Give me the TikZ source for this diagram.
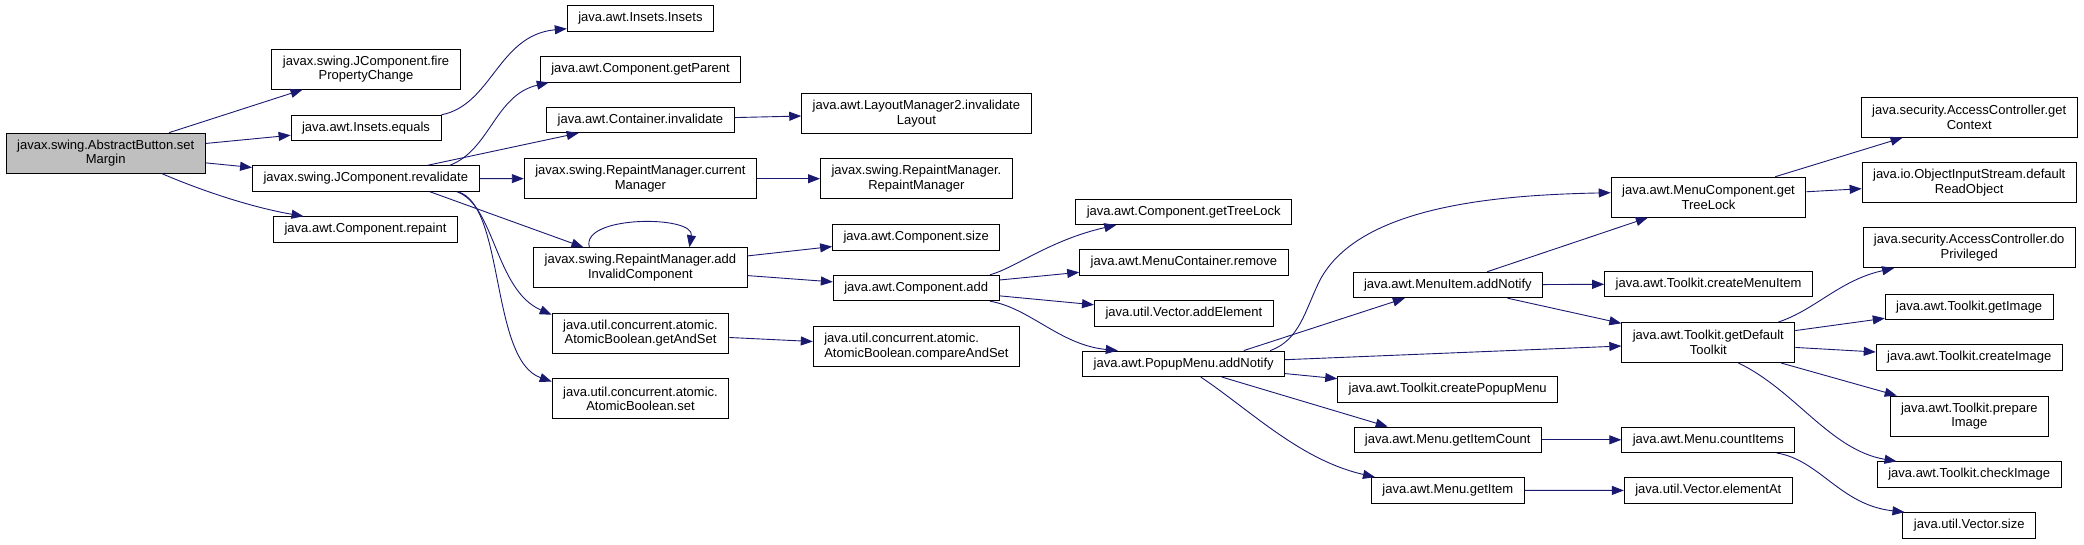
\documentclass[tikz,border=0pt]{standalone}
\usepackage{fontspec}
\setmainfont{Liberation Sans}
\usetikzlibrary{arrows.meta}
\definecolor{callblue}{HTML}{191970}
\definecolor{rootgray}{HTML}{BFBFBF}

\begin{document}
\begin{tikzpicture}[x=1pt, y=-1pt,
    fn/.style={rectangle, draw=black, line width=0.9pt, fill=white,
      inner xsep=11pt, inner ysep=1pt, minimum height=25.5pt,
      align=center, font=\fontsize{13}{14.7}\selectfont},
    fnw/.style={fn, minimum height=40pt},
    call/.style={draw=callblue, line width=0.9pt,
      -{Triangle[length=12pt,width=9pt]}}]
  \useasboundingbox (0,0) rectangle (2084,544);

  % column 1 and 2
  \node[fnw, fill=rootgray] (setmargin) at (105.7,153.1) {javax.swing.AbstractButton.set\\Margin};
  \node[fnw] (fireprop) at (366,69.2) {javax.swing.JComponent.fire\\PropertyChange};
  \node[fn] (insetsequals) at (366,128) {java.awt.Insets.equals};
  \node[fn] (revalidate) at (365.8,178.5) {javax.swing.JComponent.revalidate};
  \node[fn] (repaint) at (365.5,229.5) {java.awt.Component.repaint};

  % column 3
  \node[fn] (insets) at (640.4,18.5) {java.awt.Insets.Insets};
  \node[fn] (getparent) at (640.5,69.3) {java.awt.Component.getParent};
  \node[fn] (invalidate) at (640.4,119.8) {java.awt.Container.invalidate};
  \node[fnw] (currentmgr) at (640.4,178.7) {javax.swing.RepaintManager.current\\Manager};
  \node[fnw] (addinvalid) at (640.4,267.7) {javax.swing.RepaintManager.add\\InvalidComponent};
  \node[fnw] (getandset) at (640.5,333.2) {java.util.concurrent.atomic.\\AtomicBoolean.getAndSet};
  \node[fnw] (abset) at (640.5,398.7) {java.util.concurrent.atomic.\\AtomicBoolean.set};

  % column 4
  \node[fnw] (layoutmgr) at (916.4,113.3) {java.awt.LayoutManager2.invalidate\\Layout};
  \node[fnw] (repaintmgr) at (916.4,178.7) {javax.swing.RepaintManager.\\RepaintManager};
  \node[fn] (compsize) at (916.2,237.3) {java.awt.Component.size};
  \node[fn] (compadd) at (916.2,288) {java.awt.Component.add};
  \node[fnw, align=left] (compareandset) at (916.4,346.5) {java.util.concurrent.atomic.\\AtomicBoolean.compareAndSet};

  % column 5 and 6
  \node[fn] (gettreelock) at (1183.7,211.8) {java.awt.Component.getTreeLock};
  \node[fn] (mcremove) at (1183.9,262.3) {java.awt.MenuContainer.remove};
  \node[fn] (addelement) at (1183.9,313.2) {java.util.Vector.addElement};
  \node[fn] (popupnotify) at (1183.7,363.8) {java.awt.PopupMenu.addNotify};
  \node[fn] (itemnotify) at (1447.8,285) {java.awt.MenuItem.addNotify};
  \node[fn] (createpopup) at (1447.7,389.3) {java.awt.Toolkit.createPopupMenu};
  \node[fn] (getitemcount) at (1447.7,439.8) {java.awt.Menu.getItemCount};
  \node[fn] (getitem) at (1447.8,490.3) {java.awt.Menu.getItem};

  % column 7
  \node[fnw] (mctreelock) at (1708.5,197.2) {java.awt.MenuComponent.get\\TreeLock};
  \node[fn] (createmenuitem) at (1708.5,283.8) {java.awt.Toolkit.createMenuItem};
  \node[fnw] (defaulttk) at (1708.3,342.5) {java.awt.Toolkit.getDefault\\Toolkit};
  \node[fn] (countitems) at (1708.3,439.8) {java.awt.Menu.countItems};
  \node[fn] (elementat) at (1708.3,490.5) {java.util.Vector.elementAt};

  % column 8
  \node[fnw] (getcontext) at (1969.2,117.2) {java.security.AccessController.get\\Context};
  \node[fnw] (readobject) at (1969.2,182.7) {java.io.ObjectInputStream.default\\ReadObject};
  \node[fnw] (doprivileged) at (1969.2,247.7) {java.security.AccessController.do\\Privileged};
  \node[fn] (getimage) at (1969.2,306.7) {java.awt.Toolkit.getImage};
  \node[fn] (createimage) at (1969.2,357.3) {java.awt.Toolkit.createImage};
  \node[fnw] (prepareimage) at (1969.3,416) {java.awt.Toolkit.prepare\\Image};
  \node[fn] (checkimage) at (1969.2,474.5) {java.awt.Toolkit.checkImage};
  \node[fn] (vectorsize) at (1969.2,525.3) {java.util.Vector.size};

  % calls
  \draw[call] (setmargin) -- (fireprop);
  \draw[call] (setmargin) -- (insetsequals);
  \draw[call] (setmargin) -- (revalidate);
  \draw[call] ([xshift=56pt]setmargin.south) .. controls (200,190) and (250,207) .. ([xshift=-62pt]repaint.north);
  \draw[call] (insetsequals.north east) .. controls (492,105) and (498,35) .. ([yshift=3pt]insets.south west);
  \draw[call] ([xshift=84pt]revalidate.north) .. controls (490,150) and (495,95) .. ([xshift=9pt]getparent.south west);
  \draw[call] (revalidate) -- (invalidate);
  \draw[call] (revalidate) -- (currentmgr);
  \draw[call] ([xshift=64pt]revalidate.south) -- ([xshift=-57pt]addinvalid.north);
  \draw[call] ([xshift=91pt]revalidate.south) .. controls (495,205) and (495,290) .. ([yshift=-2pt]getandset.north west);
  \draw[call] ([xshift=92pt]revalidate.south) .. controls (505,205) and (490,360) .. ([yshift=-3.3pt]abset.north west);
  \draw[call] (invalidate) -- (layoutmgr);
  \draw[call] (currentmgr) -- (repaintmgr);
  \draw[call] ([xshift=-51pt]addinvalid.north) .. controls (580,215) and (695,215) .. ([xshift=49pt]addinvalid.north);
  \draw[call] (addinvalid) -- (compsize);
  \draw[call] (addinvalid) -- (compadd);
  \draw[call] (getandset) -- (compareandset);
  \draw[call] ([xshift=-9.6pt]compadd.north east) .. controls (1015,268) and (1050,240) .. ([xshift=41pt]gettreelock.south west);
  \draw[call] (compadd) -- (mcremove);
  \draw[call] (compadd) -- (addelement);
  \draw[call] ([xshift=-9.6pt]compadd.south east) .. controls (1030,308) and (1060,345) .. ([xshift=35.5pt]popupnotify.north west);
  \draw[call] ([xshift=-15pt]popupnotify.north east) .. controls (1300,340) and (1305,310) .. (1320,280)
    .. controls (1360,205) and (1500,195) .. ([yshift=4.5pt]mctreelock.west);
  \draw[call] ([xshift=60pt]popupnotify.north) -- ([xshift=-43pt]itemnotify.south);
  \draw[call] (popupnotify) -- (defaulttk);
  \draw[call] (popupnotify) -- (createpopup);
  \draw[call] ([xshift=38pt]popupnotify.south) -- ([xshift=-60pt]getitemcount.north);
  \draw[call] ([xshift=17pt]popupnotify.south) .. controls (1250,410) and (1300,460) .. ([xshift=4pt]getitem.north west);
  \draw[call] (itemnotify) -- (mctreelock);
  \draw[call] (itemnotify) -- (createmenuitem);
  \draw[call] (itemnotify) -- (defaulttk);
  \draw[call] (getitemcount) -- (countitems);
  \draw[call] (getitem) -- (elementat);
  \draw[call] (mctreelock) -- (getcontext);
  \draw[call] (mctreelock) -- (readobject);
  \draw[call] ([xshift=70pt]defaulttk.north) .. controls (1815,310) and (1840,280) .. ([xshift=31.6pt]doprivileged.south west);
  \draw[call] (defaulttk) -- (getimage);
  \draw[call] (defaulttk) -- (createimage);
  \draw[call] (defaulttk) -- (prepareimage);
  \draw[call] ([xshift=30pt]defaulttk.south) .. controls (1795,390) and (1830,450) .. ([xshift=19.7pt]checkimage.north west);
  \draw[call] ([xshift=68.4pt]countitems.south) .. controls (1820,460) and (1840,505) .. ([xshift=2pt]vectorsize.north west);
\end{tikzpicture}
\end{document}
